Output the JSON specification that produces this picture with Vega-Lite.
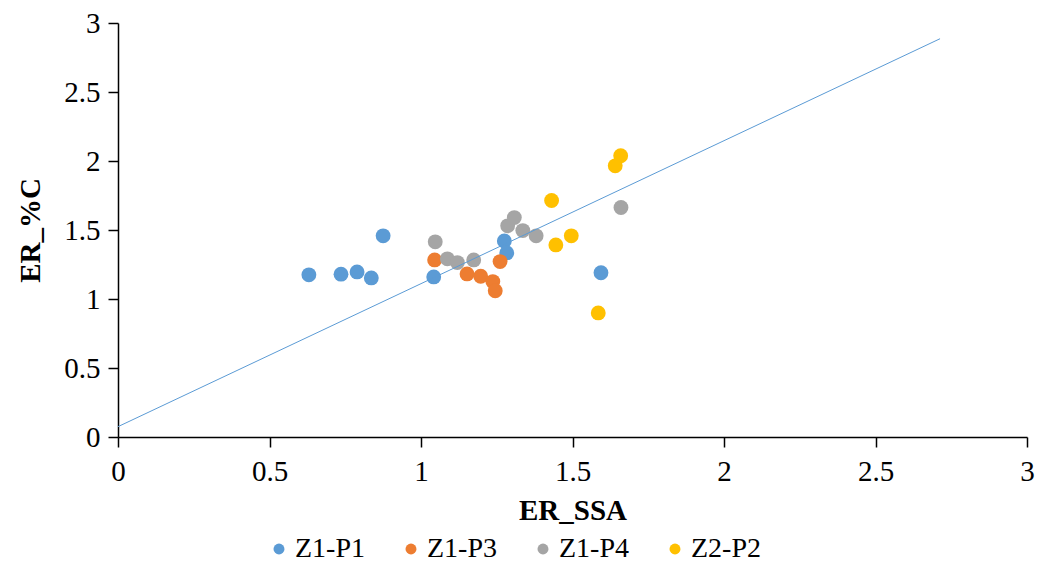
{
  "$schema": "https://vega.github.io/schema/vega-lite/v6.json",
  "width": 909,
  "height": 414,
  "autosize": {"type": "none"},
  "padding": {"left": 118, "top": 23, "right": 10, "bottom": 128},
  "background": "white",
  "config": {
    "font": "Liberation Serif",
    "view": {"stroke": null},
    "axis": {
      "grid": false, "domainColor": "black", "domainWidth": 1.5, "tickColor": "black", "tickWidth": 1.5, "tickSize": 10,
      "labelFont": "Liberation Serif", "labelFontSize": 29, "labelColor": "black", "labelFlush": false,
      "titleFont": "Liberation Serif", "titleFontSize": 29, "titleFontWeight": "bold", "titleColor": "black"
    },
    "legend": {"labelFont": "Liberation Serif", "labelFontSize": 28, "labelColor": "black"}
  },
  "datasets": {
    "points": [
      {"series": "Z1-P1", "ER_SSA": 0.630, "ER_C": 1.175},
      {"series": "Z1-P1", "ER_SSA": 0.736, "ER_C": 1.180},
      {"series": "Z1-P1", "ER_SSA": 0.789, "ER_C": 1.196},
      {"series": "Z1-P1", "ER_SSA": 0.836, "ER_C": 1.153},
      {"series": "Z1-P1", "ER_SSA": 0.875, "ER_C": 1.458},
      {"series": "Z1-P1", "ER_SSA": 1.042, "ER_C": 1.160},
      {"series": "Z1-P1", "ER_SSA": 1.275, "ER_C": 1.420},
      {"series": "Z1-P1", "ER_SSA": 1.283, "ER_C": 1.334},
      {"series": "Z1-P1", "ER_SSA": 1.594, "ER_C": 1.190},
      {"series": "Z1-P3", "ER_SSA": 1.045, "ER_C": 1.283},
      {"series": "Z1-P3", "ER_SSA": 1.152, "ER_C": 1.182},
      {"series": "Z1-P3", "ER_SSA": 1.197, "ER_C": 1.165},
      {"series": "Z1-P3", "ER_SSA": 1.237, "ER_C": 1.126},
      {"series": "Z1-P3", "ER_SSA": 1.245, "ER_C": 1.059},
      {"series": "Z1-P3", "ER_SSA": 1.261, "ER_C": 1.271},
      {"series": "Z1-P4", "ER_SSA": 1.047, "ER_C": 1.414},
      {"series": "Z1-P4", "ER_SSA": 1.087, "ER_C": 1.291},
      {"series": "Z1-P4", "ER_SSA": 1.120, "ER_C": 1.264},
      {"series": "Z1-P4", "ER_SSA": 1.174, "ER_C": 1.283},
      {"series": "Z1-P4", "ER_SSA": 1.286, "ER_C": 1.530},
      {"series": "Z1-P4", "ER_SSA": 1.308, "ER_C": 1.590},
      {"series": "Z1-P4", "ER_SSA": 1.336, "ER_C": 1.496},
      {"series": "Z1-P4", "ER_SSA": 1.380, "ER_C": 1.458},
      {"series": "Z1-P4", "ER_SSA": 1.660, "ER_C": 1.663},
      {"series": "Z2-P2", "ER_SSA": 1.431, "ER_C": 1.714},
      {"series": "Z2-P2", "ER_SSA": 1.445, "ER_C": 1.392},
      {"series": "Z2-P2", "ER_SSA": 1.496, "ER_C": 1.458},
      {"series": "Z2-P2", "ER_SSA": 1.585, "ER_C": 0.899},
      {"series": "Z2-P2", "ER_SSA": 1.641, "ER_C": 1.965},
      {"series": "Z2-P2", "ER_SSA": 1.659, "ER_C": 2.038}
    ],
    "trend": [
      {"ER_SSA": 0, "ER_C": 0.075},
      {"ER_SSA": 2.713, "ER_C": 2.886}
    ]
  },
  "layer": [
    {
      "data": {"name": "points"},
      "mark": {"type": "circle", "size": 220, "opacity": 1},
      "encoding": {
        "x": {
          "field": "ER_SSA", "type": "quantitative",
          "scale": {"domain": [0, 3], "nice": false, "zero": false},
          "axis": {"title": "ER_SSA", "values": [0, 0.5, 1, 1.5, 2, 2.5, 3], "format": "~g", "labelPadding": 10, "titlePadding": 10}
        },
        "y": {
          "field": "ER_C", "type": "quantitative",
          "scale": {"domain": [0, 3], "nice": false, "zero": false},
          "axis": {"title": "ER_%C", "values": [0, 0.5, 1, 1.5, 2, 2.5, 3], "format": "~g", "labelPadding": 8, "titlePadding": 18}
        },
        "color": {
          "field": "series", "type": "nominal",
          "scale": {"domain": ["Z1-P1", "Z1-P3", "Z1-P4", "Z2-P2"], "range": ["#5B9BD5", "#ED7D31", "#A5A5A5", "#FFC000"]},
          "legend": {
            "title": null, "orient": "none", "direction": "horizontal", "legendX": 147, "legendY": 512,
            "symbolType": "circle", "symbolSize": 120, "symbolOpacity": 1, "columnPadding": 32, "labelOffset": 2
          }
        }
      }
    },
    {
      "data": {"name": "trend"},
      "mark": {"type": "line", "color": "#5B9BD5", "strokeWidth": 1},
      "encoding": {
        "x": {"field": "ER_SSA", "type": "quantitative"},
        "y": {"field": "ER_C", "type": "quantitative"}
      }
    }
  ]
}
